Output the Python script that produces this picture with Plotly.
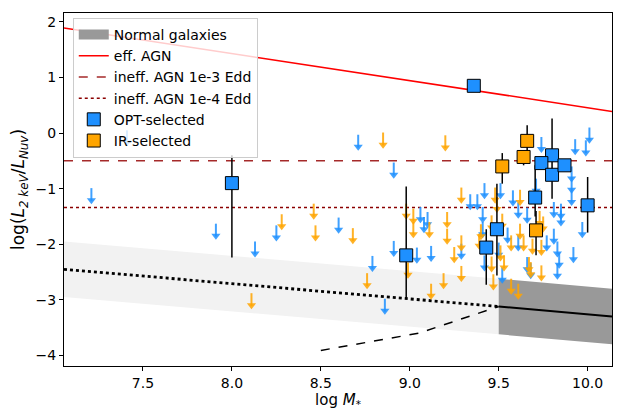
import plotly.graph_objects as go

# ---------------- data ----------------
x_range = [7.056, 10.137]
y_range = [-4.19, 2.16]

# reference relations
eff_agn_x = [7.056, 10.137]
eff_agn_y = [1.89, 0.39]
ineff3_y = -0.50
ineff4_y = -1.34

gal_x_low = [7.056, 9.5]          # extrapolated normal-galaxy relation
gal_y_low = [-2.45, -3.12]
gal_x_high = [9.5, 10.137]        # calibrated normal-galaxy relation
gal_y_high = [-3.12, -3.30]
gal_scatter = 0.5
dashed_x = [8.5, 9.05, 9.5]
dashed_y = [-3.91, -3.60, -3.12]

# detections (squares with error bars)
opt_x = [9.36, 8.00, 8.98, 9.43, 9.49, 9.80, 9.74, 9.80, 9.87, 9.705, 10.00]
opt_y = [0.85, -0.90, -2.20, -2.06, -1.73, -0.40, -0.54, -0.75, -0.58, -1.16, -1.30]
opt_eu = [0.0, 0.50, 1.24, 0.33, 0.82, 0.66, 0.0, 0.0, 0.0, 0.58, 0.51]
opt_ed = [0.0, 1.34, 0.78, 0.67, 0.83, 0.35, 0.0, 0.43, 0.0, 0.34, 0.49]

ir_x = [9.52, 9.64, 9.66, 9.71]
ir_y = [-0.60, -0.43, -0.14, -1.75]
ir_eu = [0.24, 0.10, 0.28, 0.35]
ir_ed = [0.31, 0.15, 0.20, 0.45]

# upper limits (arrows)
opt_lim_x = [7.21, 7.41, 7.91, 8.13, 8.71, 8.91, 8.25, 8.60, 8.79, 8.86, 8.91, 9.04,
             9.12, 9.06, 9.10, 9.08, 9.34, 9.38, 9.42, 9.51, 9.58, 9.61, 9.66, 9.41,
             9.41, 9.29, 9.55, 9.50, 9.42, 9.52, 9.68, 9.66, 9.61, 9.77, 9.81, 9.83,
             9.84, 9.83, 9.92, 9.81, 9.85, 9.85, 9.91, 9.91, 9.91, 9.93, 9.99, 10.01,
             9.74, 9.97, 9.71]
opt_lim_y = [-0.99, 0.05, -1.63, -1.95, -0.03, -0.53, -1.66, -1.52, -2.21, -2.98, -1.94, -2.06,
             -2.03, -1.33, -1.42, -1.51, -1.10, -1.10, -0.90, -0.90, -1.03, -1.25, -1.34, -1.33,
             -1.60, -1.99, -1.70, -1.97, -2.20, -2.42, -2.34, -2.23, -1.84, -1.84, -1.72, -1.95,
             -2.15, -2.35, -2.05, -1.24, -1.27, -1.39, -0.60, -0.80, -1.02, -0.11, -0.13, 0.10,
             -0.07, -1.60, -0.82]

ir_lim_x = [8.11, 8.85, 9.20, 8.46, 8.28, 8.47, 8.68, 8.76, 9.12, 9.19, 8.99, 8.98,
            9.02, 9.02, 9.11, 9.21, 9.21, 9.29, 9.48, 9.62, 9.29, 9.25, 9.29, 9.46,
            9.52, 9.40, 9.39, 9.46, 9.53, 9.47, 9.57, 9.61, 9.67, 9.74, 9.62, 9.64,
            9.74, 9.69, 9.73, 9.75, 9.68, 9.57, 9.51, 9.49]
ir_lim_y = [-2.88, 0.01, -0.04, -1.27, -1.46, -1.66, -1.71, -2.52, -2.71, -2.52, -2.33, -1.27,
            -1.36, -1.60, -1.60, -1.42, -1.72, -0.98, -0.98, -1.02, -1.84, -2.05, -2.39, -1.48,
            -1.45, -1.64, -1.81, -2.22, -2.20, -2.54, -2.62, -2.71, -2.23, -2.38, -1.63, -1.84,
            -1.92, -1.90, -1.40, -1.50, -2.32, -1.84, -2.02, -1.15]

arrow_len = 0.29

# ---------------- colours ----------------
c_blue = "#1e90ff"
c_blue_arrow = "rgba(30,144,255,0.85)"
c_orange = "#ffa500"
c_orange_arrow = "rgba(255,165,0,0.85)"
c_band = "#999999"

fig = go.Figure()


def band(xs, ys, w):
    px = list(xs) + list(xs)[::-1]
    py = [v + w for v in ys] + [v - w for v in ys][::-1]
    return px, py


# light band (extrapolation)
bx, by = band(gal_x_low, gal_y_low, gal_scatter)
fig.add_trace(go.Scatter(x=bx, y=by, fill="toself", mode="none",
                         fillcolor="#f2f2f2", showlegend=False, hoverinfo="skip"))
# dark band
bx, by = band(gal_x_high, gal_y_high, gal_scatter)
fig.add_trace(go.Scatter(x=bx, y=by, fill="toself", mode="none",
                         fillcolor=c_band, showlegend=False, hoverinfo="skip"))
# legend patch for the band
fig.add_trace(go.Scatter(x=[None], y=[None], mode="lines",
                         line=dict(color=c_band, width=10),
                         name="Normal galaxies", legendrank=1))

fig.add_trace(go.Scatter(x=gal_x_low, y=gal_y_low, mode="lines",
                         line=dict(color="black", width=2.8, dash="dot"), showlegend=False))
fig.add_trace(go.Scatter(x=gal_x_high, y=gal_y_high, mode="lines",
                         line=dict(color="black", width=2), showlegend=False))
fig.add_trace(go.Scatter(x=dashed_x, y=dashed_y, mode="lines",
                         line=dict(color="black", width=1.5, dash="dash"), showlegend=False))

fig.add_trace(go.Scatter(x=eff_agn_x, y=eff_agn_y, mode="lines",
                         line=dict(color="red", width=1.5), name="eff. AGN", legendrank=2))
fig.add_trace(go.Scatter(x=x_range, y=[ineff3_y, ineff3_y], mode="lines",
                         line=dict(color="#a52a2a", width=1.5, dash="dash"),
                         name="ineff. AGN 1e-3 Edd", legendrank=3))
fig.add_trace(go.Scatter(x=x_range, y=[ineff4_y, ineff4_y], mode="lines",
                         line=dict(color="#8b0000", width=1.5, dash="dot"),
                         name="ineff. AGN 1e-4 Edd", legendrank=4))


def arrows(xs, ys, color):
    sx, sy = [], []
    for a, b in zip(xs, ys):
        sx += [a, a, None]
        sy += [b, b - arrow_len + 0.06, None]
    fig.add_trace(go.Scatter(x=sx, y=sy, mode="lines",
                             line=dict(color=color, width=2), showlegend=False,
                             hoverinfo="skip"))
    fig.add_trace(go.Scatter(x=xs, y=[b - arrow_len + 0.072 for b in ys], mode="markers",
                             marker=dict(symbol="triangle-down", size=8, color=color,
                                         line=dict(width=0)),
                             showlegend=False))


arrows(opt_lim_x, opt_lim_y, c_blue_arrow)
arrows(ir_lim_x, ir_lim_y, c_orange_arrow)

err_style = dict(type="data", symmetric=False, color="black", thickness=1.5, width=0)

fig.add_trace(go.Scatter(x=opt_x, y=opt_y, mode="markers", name="OPT-selected",
                         marker=dict(symbol="square", size=13, color=c_blue,
                                     line=dict(color="black", width=1)),
                         error_y=dict(array=opt_eu, arrayminus=opt_ed, **err_style),
                         legendrank=5))
fig.add_trace(go.Scatter(x=ir_x, y=ir_y, mode="markers", name="IR-selected",
                         marker=dict(symbol="square", size=13, color=c_orange,
                                     line=dict(color="black", width=1)),
                         error_y=dict(array=ir_eu, arrayminus=ir_ed, **err_style),
                         legendrank=6))

axis_common = dict(showline=True, linecolor="black", linewidth=1, mirror=True,
                   ticks="outside", ticklen=4, tickcolor="black", showgrid=False,
                   zeroline=False, tickfont=dict(size=14, color="black"))

fig.update_layout(
    width=617, height=410,
    margin=dict(l=64, r=5, t=13, b=44),
    paper_bgcolor="white", plot_bgcolor="white",
    font=dict(family="DejaVu Sans", color="black"),
    xaxis=dict(range=x_range, tickvals=[7.5, 8.0, 8.5, 9.0, 9.5, 10.0],
               ticktext=["7.5", "8.0", "8.5", "9.0", "9.5", "10.0"],
               title=dict(text="log <i>M</i><sub>*</sub>", font=dict(size=15), standoff=3),
               **axis_common),
    yaxis=dict(range=y_range, tickvals=[-4, -3, -2, -1, 0, 1, 2],
               title=dict(text="log(<i>L</i><sub><i>2 keV</i></sub>/<i>L</i><sub><i>Nuv</i></sub>)",
                          font=dict(size=17), standoff=6),
               **axis_common),
    legend=dict(x=0.016, y=0.986, xanchor="left", yanchor="top",
                bgcolor="rgba(255,255,255,0.8)", bordercolor="#cccccc", borderwidth=1,
                font=dict(size=14), tracegroupgap=0, itemwidth=30),
    showlegend=True,
)

fig.write_html("out.html", config={"displayModeBar": False},
               post_script="document.body.style.margin='0';document.body.style.padding='0';")
